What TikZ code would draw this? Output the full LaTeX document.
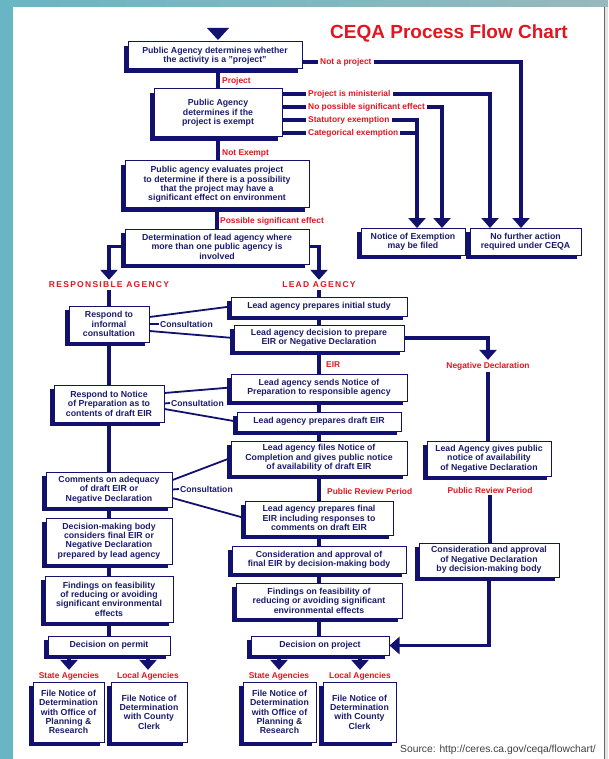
\documentclass[tikz,border=0pt]{standalone}
\usepackage{fontspec}
\setmainfont{Liberation Sans}
\usetikzlibrary{arrows.meta,shadows,calc}
\definecolor{navy}{RGB}{18,18,110}
\definecolor{navytext}{RGB}{28,28,110}
\definecolor{cred}{RGB}{226,22,32}
\definecolor{tealbg}{RGB}{104,182,196}
\definecolor{tealgray}{RGB}{150,185,188}
\tikzset{
  box/.style={draw=navy, line width=1pt, fill=white, text=navytext,
    font=\bfseries\fontsize{8.75}{9.4}\selectfont, align=center, inner sep=1pt,
    general shadow={fill=navy, shadow xshift=-4pt, shadow yshift=-4pt}},
  lbl/.style={text=cred, font=\bfseries\fontsize{8.4}{9}\selectfont, inner sep=2pt},
  cons/.style={text=navytext, font=\bfseries\fontsize{8.6}{9}\selectfont, inner sep=1pt},
  hdr/.style={text=cred, font=\bfseries\fontsize{8.5}{9}\selectfont\addfontfeature{LetterSpace=15}, inner sep=2pt},
  conn/.style={draw=navy, line width=3.6pt},
  arr/.style={conn, -{Triangle[width=17pt,length=10pt]}},
  thinline/.style={draw=navy, line width=1.8pt},
}
\newcommand\Bx[6]{\node[box, minimum width={#4-#2}, minimum height={#5-#3}] (#1) at ({(#2+#4)/2},{(#3+#5)/2}) {#6};}
\begin{document}
\begin{tikzpicture}[x=1pt,y=-1pt]
\useasboundingbox (0,0) rectangle (608,759);
% background panel
\fill[tealbg] (0,0) rectangle (608,759);
\shade[left color=tealbg, right color=tealgray] (0,0) rectangle (608,7);
\fill[black!10] (604,7) rectangle (608,759);
\fill[white] (13,7) rectangle (604,759);
\draw[black!60, line width=1pt] (604.5,7) -- (604.5,759);

% title
\node[text=cred, font=\bfseries\fontsize{19}{22}\selectfont] (title) at (449,33) {CEQA Process Flow Chart};
% entry triangle
\fill[navy] (207,28) -- (229,28) -- (218,40) -- cycle;

% boxes
\Bx{A}{128}{42}{302}{69}{Public Agency determines whether\\the activity is a "project"}
\Bx{B}{154}{89}{282}{137}{Public Agency\\determines if the\\project is exempt}
\Bx{C}{125}{161}{309}{208}{Public agency evaluates project\\to determine if there is a possibility\\that the project may have a\\significant effect on environment}
\Bx{D}{125}{229}{309}{264}{Determination of lead agency where\\more than one public agency is\\involved}
\Bx{NoE}{361}{228}{465}{255}{Notice of Exemption\\may be filed}
\Bx{NFA}{470}{228}{581}{255}{No further action\\required under CEQA}
\Bx{E}{69}{306}{149}{342}{Respond to\\informal\\consultation}
\Bx{F}{231}{297}{407}{316}{Lead agency prepares initial study}
\Bx{G}{234}{325}{404}{351}{Lead agency decision to prepare\\EIR or Negative Declaration}
\Bx{H}{231}{374}{407}{401}{Lead agency sends Notice of\\Preparation to responsible agency}
\Bx{I}{54}{385}{164}{422}{Respond to Notice\\of Preparation as to\\contents of draft EIR}
\Bx{J}{237}{412}{401}{431}{Lead agency prepares draft EIR}
\Bx{K}{231}{441}{407}{475}{Lead agency files Notice of\\Completion and gives public notice\\of availability of draft EIR}
\Bx{L}{46}{472}{172}{507}{Comments on adequacy\\of draft EIR or\\Negative Declaration}
\Bx{M}{245}{501}{393}{535}{Lead agency prepares final\\EIR including responses to\\comments on draft EIR}
\Bx{N}{46}{518}{172}{564}{Decision-making body\\considers final EIR or\\Negative Declaration\\prepared by lead agency}
\Bx{P}{427}{441}{551}{476}{Lead Agency gives public\\notice of availability\\of Negative Declaration}
\Bx{Q}{419}{543}{559}{577}{Consideration and approval\\of Negative Declaration\\by decision-making body}
\Bx{R}{232}{546}{406}{573}{Consideration and approval of\\final EIR by decision-making body}
\Bx{S}{45}{576}{173}{622}{Findings on feasibility\\of reducing or avoiding\\significant environmental\\effects}
\Bx{U}{236}{583}{402}{618}{Findings on feasibility of\\reducing or avoiding significant\\environmental effects}
\Bx{T}{48}{636}{170}{655}{Decision on permit}
\Bx{V}{251}{636}{389}{655}{Decision on project}
\Bx{W1}{33}{682}{104}{742}{File Notice of\\Determination\\with Office of\\Planning \&\\Research}
\Bx{W2}{111}{682}{187}{742}{File Notice of\\Determination\\with County\\Clerk}
\Bx{W3}{243}{682}{316}{742}{File Notice of\\Determination\\with Office of\\Planning \&\\Research}
\Bx{W4}{323}{682}{396}{742}{File Notice of\\Determination\\with County\\Clerk}

% labels
\node[lbl, anchor=west] (npj) at (318,62) {Not a project};
\node[lbl, anchor=west] (prj) at (220,81) {Project};
\node[lbl, anchor=west] (min) at (306,94) {Project is ministerial};
\node[lbl, anchor=west] (nps) at (306,107) {No possible significant effect};
\node[lbl, anchor=west] (sta) at (306,120) {Statutory exemption};
\node[lbl, anchor=west] (cat) at (306,133) {Categorical exemption};
\node[lbl, anchor=west] (nex) at (220,153) {Not Exempt};
\node[lbl, anchor=west] (pse) at (218,221) {Possible significant effect};
\node[hdr] (RA) at (109,285) {RESPONSIBLE AGENCY};
\node[hdr] (LA) at (319,285) {LEAD AGENCY};
\node[lbl, anchor=west] (eir) at (324,365) {EIR};
\node[lbl] (ND) at (488,366) {Negative Declaration};
\node[lbl, anchor=west] (prp1) at (325,491) {Public Review Period};
\node[lbl] (prp2) at (490,490) {Public Review Period};
\node[lbl] (sa1) at (69,676) {State Agencies};
\node[lbl] (la1) at (148,676) {Local Agencies};
\node[lbl] (sa2) at (279,676) {State Agencies};
\node[lbl] (la2) at (360,676) {Local Agencies};
\node[cons, anchor=west] (c1) at (159,324) {Consultation};
\node[cons, anchor=west] (c2) at (170,403) {Consultation};
\node[cons, anchor=west] (c3) at (179,489) {Consultation};
\node[text=black!75, font=\fontsize{10.3}{12}\selectfont] (src) at (498,750) {Source: http://ceres.ca.gov/ceqa/flowchart/};

% entry points on box tops
\coordinate (nfaR) at (521,228);
\coordinate (nfaL) at (490,228);
\coordinate (noeR) at (442,228);
\coordinate (noeL) at (417,228);

% connectors: top part
\draw[conn] (A.east |- npj.west) -- (npj.west);
\draw[arr] (npj.east) -| (nfaR);
\draw[conn] (A.south -| B.north) -- (B.north);
\draw[conn] (B.east |- min.west) -- (min.west);
\draw[arr] (min.east) -| (nfaL);
\draw[conn] (B.east |- nps.west) -- (nps.west);
\draw[arr] (nps.east) -| (noeR);
\draw[conn] (B.east |- sta.west) -- (sta.west);
\draw[arr] (sta.east) -| (noeL);
\draw[conn] (B.east |- cat.west) -- (cat.west);
\draw[conn] (cat.east) -- (cat.east -| noeL);
\draw[conn] (B.south) -- (B.south |- C.north);
\draw[conn] (C.south) -- (C.south |- D.north);
\draw[arr] (D.west) -| (RA.north);
\draw[arr] (D.east) -| (LA.north);
\draw[conn] (RA.south) -- (RA.south |- E.north);
\draw[conn] (LA.south) -- (LA.south |- F.north);

% consultation links
\draw[thinline] ([yshift=7pt]E.east) -- (F.west);
\draw[thinline] ([yshift=-7pt]E.east) -- (G.west);
\draw[thinline] (E.east) -- (c1.west);
\draw[thinline] ([yshift=10.5pt]I.east) -- (H.west);
\draw[thinline] ([yshift=-5.5pt]I.east) -- (J.west);
\draw[thinline] (I.east) -- (c2.west);
\draw[thinline] ([yshift=9.5pt]L.east) -- (K.west);
\draw[thinline] ([yshift=-8.5pt]L.east) -- (M.west);
\draw[thinline] (L.east) -- (c3.west);

% lead column
\draw[conn] (F.south) -- (F.south |- G.north);
\draw[conn] (G.south) -- (G.south |- H.north);
\draw[conn] (H.south) -- (H.south |- J.north);
\draw[conn] (J.south) -- (J.south |- K.north);
\draw[conn] (K.south) -- (K.south |- M.north);
\draw[conn] (M.south) -- (M.south |- R.north);
\draw[conn] (R.south) -- (R.south |- U.north);
\draw[conn] (U.south) -- (U.south |- V.north);
% negative declaration column
\draw[arr] (G.east) -| (ND.north);
\draw[conn] (ND.south) -- (ND.south |- P.north);
\draw[conn] (prp2.south) -- (prp2.south |- Q.north);
\draw[arr] (Q.south) |- (V.east);
% responsible column
\draw[conn] (E.south) -- (E.south |- I.north);
\draw[conn] (I.south) -- (I.south |- L.north);
\draw[conn] (L.south) -- (L.south |- N.north);
\draw[conn] (N.south) -- (N.south |- S.north);
\draw[conn] (S.south) -- (S.south |- T.north);
% final arrows
\draw[arr] (T.south -| sa1.north) -- (sa1.north);
\draw[arr] (T.south -| la1.north) -- (la1.north);
\draw[arr] (V.south -| sa2.north) -- (sa2.north);
\draw[arr] (V.south -| la2.north) -- (la2.north);
\end{tikzpicture}
\end{document}
